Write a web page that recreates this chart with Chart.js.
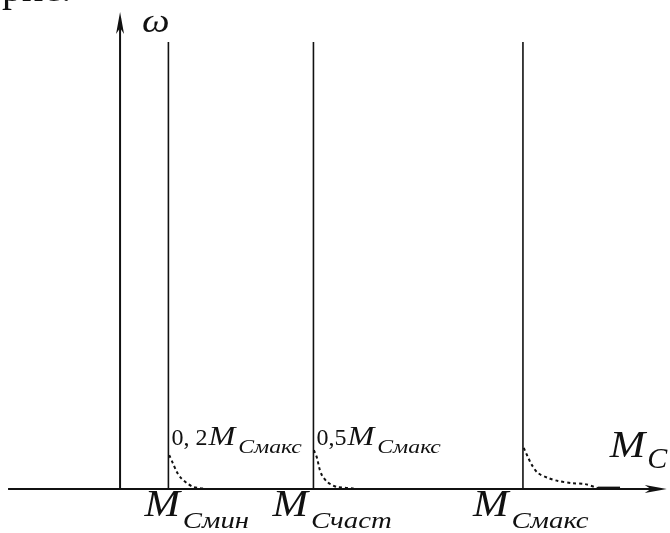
<!DOCTYPE html>
<html>
<head>
<meta charset="utf-8">
<script src="https://cdn.jsdelivr.net/npm/chart.js@4.4.1/dist/chart.umd.min.js"></script>
<style>
    html, body { margin: 0; padding: 0; background: #fff; }
    #chart { display: block; }
</style>
</head>
<body>
<canvas id="chart" width="670" height="533"></canvas>
<script>
// Moments on the M_C axis, in % of M_Cmax
const markNames = ['Смин', 'Счаст', 'Смакс'];
const markValues = [12, 48, 100];
const lineTop = 100;

// share labels near the start of dotted curves
const shareNames = ['0, 2', '0,5'];

// dotted curves (x in % of M_Cmax, y in % of line height)
const curve1X = [12.2, 13.1, 14.1, 15.1, 16.6, 18.1, 19.9, 21.6];
const curve1Y = [7.6, 5.8, 3.8, 2.5, 1.3, 0.5, 0.2, 0];
const curve2X = [48.1, 48.9, 49.4, 50.1, 51.4, 52.6, 54.1, 55.8, 57.8, 59.1];
const curve2Y = [8.7, 6.9, 4.9, 3.1, 1.6, 0.9, 0.4, 0.3, 0.1, 0];
const curve3X = [100.2, 101.2, 102.2, 103.7, 106.2, 108.7, 112.2, 115.4, 117.9, 118.6];
const curve3Y = [9.2, 7.2, 5.4, 3.6, 2.5, 1.8, 1.3, 1.1, 0.4, 0.2];
const tailX = [118.6, 124.1];
const tailY = [0.2, 0.2];

// axis extents
const X_MIN = -29.8, X_MAX = 136.5, Y_MIN = -9.84, Y_MAX = 109.4;
const AXIS_X_FROM = -27.8, AXIS_X_TO = 135.7, AXIS_Y_TO = 106.7;

// label placement (pixels left of each line)
const LABEL_SHIFT = [24, 41, 50];

const INK = '#111';
const SERIF = '"Liberation Serif"';

function points(xs, ys) {
    return xs.map((x, i) => ({ x: x, y: ys[i] }));
}

// draw text pieces one after another, each may be stretched sideways
function drawParts(ctx, x, y, parts) {
    parts.forEach(function(p) {
        const k = p.stretch || 1;
        ctx.font = p.font;
        ctx.save();
        ctx.translate(x, y + (p.dy || 0));
        ctx.scale(k, 1);
        ctx.fillText(p.text, 0, 0);
        ctx.restore();
        x += ctx.measureText(p.text).width * k + (p.gap || 0);
    });
}

const schemePlugin = {
    id: 'scheme',
    afterDatasetsDraw(chart) {
        const ctx = chart.ctx;
        const sx = chart.scales.x, sy = chart.scales.y;
        const x0 = sx.getPixelForValue(0), y0 = sy.getPixelForValue(0);
        ctx.save();
        ctx.strokeStyle = INK;
        ctx.fillStyle = INK;
        ctx.lineWidth = 2;

        // horizontal axis with arrow
        const xa = sx.getPixelForValue(AXIS_X_FROM), xb = sx.getPixelForValue(AXIS_X_TO);
        ctx.beginPath();
        ctx.moveTo(xa, y0);
        ctx.lineTo(xb - 6, y0);
        ctx.stroke();
        ctx.beginPath();
        ctx.moveTo(xb, y0);
        ctx.lineTo(xb - 22, y0 - 4);
        ctx.lineTo(xb - 16, y0);
        ctx.lineTo(xb - 22, y0 + 4);
        ctx.closePath();
        ctx.fill();

        // vertical axis with arrow
        const yt = sy.getPixelForValue(AXIS_Y_TO);
        ctx.beginPath();
        ctx.moveTo(x0, y0);
        ctx.lineTo(x0, yt + 6);
        ctx.stroke();
        ctx.beginPath();
        ctx.moveTo(x0, yt);
        ctx.lineTo(x0 - 4, yt + 22);
        ctx.lineTo(x0, yt + 16);
        ctx.lineTo(x0 + 4, yt + 22);
        ctx.closePath();
        ctx.fill();

        ctx.textBaseline = 'alphabetic';
        ctx.textAlign = 'left';

        // omega
        drawParts(ctx, x0 + 22, y0 - 457, [
            { text: 'ω', font: 'italic 34px ' + SERIF, stretch: 1.15 }
        ]);

        // M_C at the end of the axis
        drawParts(ctx, xb - 57, y0 - 32, [
            { text: 'M', font: 'italic 38px ' + SERIF, stretch: 1.12, gap: 2 },
            { text: 'C', font: 'italic 30px ' + SERIF, dy: 11 }
        ]);

        // moment labels under the axis
        markValues.forEach(function(v, i) {
            const px = sx.getPixelForValue(v) - LABEL_SHIFT[i];
            drawParts(ctx, px, y0 + 27, [
                { text: 'M', font: 'italic 38px ' + SERIF, stretch: 1.12, gap: 3 },
                { text: markNames[i], font: 'italic 24px ' + SERIF, stretch: 1.2, dy: 12 }
            ]);
        });

        // share labels next to curve starts
        shareNames.forEach(function(s, i) {
            const px = sx.getPixelForValue(markValues[i]) + 3;
            drawParts(ctx, px, y0 - 44, [
                { text: s, font: '24px ' + SERIF, gap: 1 },
                { text: 'M', font: 'italic 28px ' + SERIF, stretch: 1.15, gap: 3 },
                { text: 'Смакс', font: 'italic 19px ' + SERIF, stretch: 1.25, dy: 8 }
            ]);
        });

        // clipped caption at the top
        ctx.font = '40px ' + SERIF;
        ctx.fillText('рис.', 2, 1);
        ctx.restore();
    }
};

const lineDatasets = markValues.map(function(v) {
    return {
        data: [{ x: v, y: 0 }, { x: v, y: lineTop }],
        borderColor: INK,
        borderWidth: 1.6,
        showLine: true,
        pointRadius: 0
    };
});

function dotted(xs, ys) {
    return {
        data: points(xs, ys),
        borderColor: INK,
        borderWidth: 2,
        borderDash: [3, 3],
        showLine: true,
        tension: 0.3,
        pointRadius: 0
    };
}

new Chart(document.getElementById('chart'), {
    type: 'scatter',
    data: {
        datasets: lineDatasets.concat([
            dotted(curve1X, curve1Y),
            dotted(curve2X, curve2Y),
            dotted(curve3X, curve3Y),
            {
                data: points(tailX, tailY),
                borderColor: INK,
                borderWidth: 3,
                showLine: true,
                pointRadius: 0
            }
        ])
    },
    options: {
        responsive: false,
        animation: false,
        devicePixelRatio: 1,
        layout: { padding: 0 },
        plugins: {
            legend: { display: false },
            tooltip: { enabled: false }
        },
        scales: {
            x: { type: 'linear', display: false, min: X_MIN, max: X_MAX },
            y: { type: 'linear', display: false, min: Y_MIN, max: Y_MAX }
        }
    },
    plugins: [schemePlugin]
});
</script>
</body>
</html>
